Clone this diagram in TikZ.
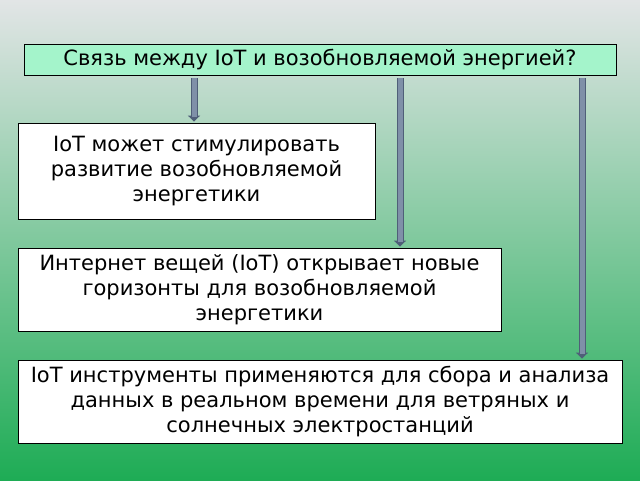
\documentclass[tikz,border=0pt]{standalone}
\usepackage{fontspec}
\setmainfont{DejaVu Sans}
\usetikzlibrary{arrows.meta, positioning, calc}
\definecolor{mint}{HTML}{A4F4CB}
\definecolor{shaft}{HTML}{7F90A8}
\definecolor{shaftdark}{HTML}{4F5F78}
\definecolor{bgtop}{HTML}{E2E5E6}
\definecolor{bgbot}{HTML}{1EAC55}
\tikzset{
    box/.style = {draw, fill=white, line width=0.8pt, align=center, inner sep=0pt, font=\fontsize{21}{25}\selectfont},
    arr/.style = {draw=shaftdark, line width=7pt, -{Triangle[length=6pt,width=12pt]}, shorten >=1pt},
    arrin/.style = {draw=shaft, line width=5pt, shorten >=6pt}
}
\begin{document}
\begin{tikzpicture}[x=1pt,y=-1pt]
    \shade[top color=bgtop, bottom color=bgbot] (0,0) rectangle (640,480);
    \useasboundingbox (0,0) rectangle (640,480);
    \node (title) [box,fill=mint,minimum width=592pt,minimum height=31pt] at (320,59.5) {Связь между IoT и возобновляемой энергией?};
    \node (b1) [box,minimum width=357pt,minimum height=96pt] at (196.5,171) {IoT может стимулировать\\развитие возобновляемой\\энергетики};
    \node (b2) [box,minimum width=483pt,minimum height=83pt] at (259.5,289.5) {Интернет вещей (IoT) открывает новые\\горизонты для возобновляемой\\энергетики};
    \node (b3) [box,minimum width=604pt,minimum height=83pt] at (320,401.5) {IoT инструменты применяются для сбора и анализа\\данных в реальном времени для ветряных и\\солнечных электростанций};
    \coordinate (s1) at (194,78);
    \coordinate (s2) at (400,78);
    \coordinate (s3) at (582,78);
    \foreach \s/\b in {s1/b1, s2/b2, s3/b3} {
        \draw[arr] (\s) -- (\s |- \b.north);
        \draw[arrin] (\s) -- (\s |- \b.north);
    }
\end{tikzpicture}
\end{document}
